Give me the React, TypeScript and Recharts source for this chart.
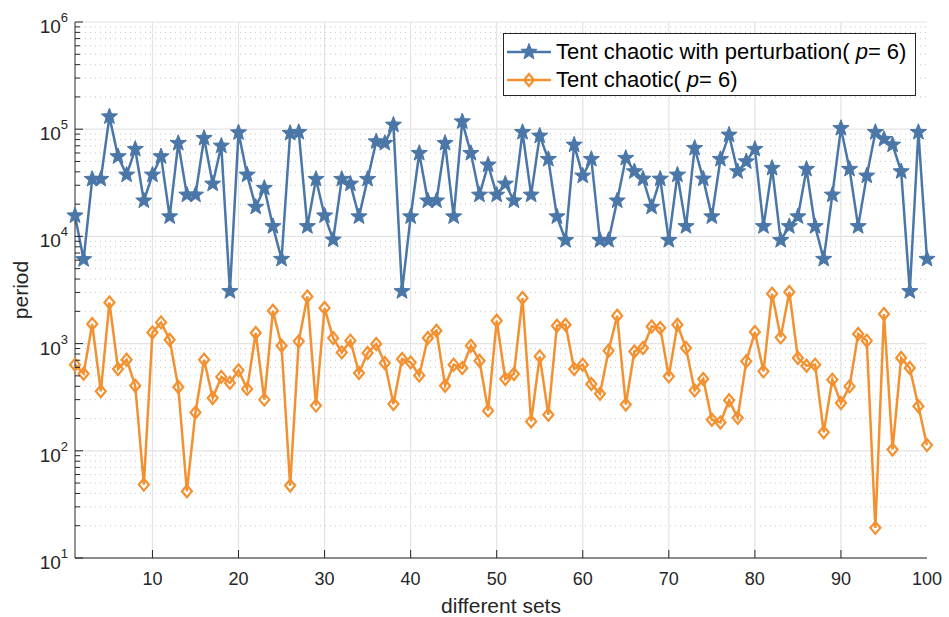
import React from 'react';
import { LineChart, Line, XAxis, YAxis, CartesianGrid, Legend } from 'recharts';

const setIds = Array.from({ length: 100 }, (_, i) => i + 1);

const perturbedPeriod = [
  15600, 6100, 34200, 34200, 131000, 55600, 37500, 65100, 21500, 37500,
  55600, 15300, 74000, 24400, 24400, 82400, 30900, 69900, 3070, 93000,
  37500, 18800, 28200, 12400, 6140, 91800, 93700, 12400, 34200, 15600,
  9300, 34200, 30900, 15300, 34200, 76700, 74000, 109700, 3070, 15300,
  59700, 21500, 21500, 74000, 15300, 117800, 59700, 24400, 46500, 24400,
  30900, 21500, 93700, 24400, 86600, 52500, 15300, 9200, 71400, 36700,
  52500, 9200, 9200, 21500, 53700, 40300, 34400, 18800, 34400, 9200,
  37500, 12400, 66500, 34400, 15300, 52500, 88500, 40300, 49900, 65100,
  12400, 43300, 9200, 12400, 15300, 42400, 12400, 6140, 24400, 102000,
  42400, 12400, 36700, 93700, 80700, 71400, 40300, 3070, 93700, 6140,
];

const plainPeriod = [
  636, 524, 1524, 359, 2420, 580, 708, 405, 48.4, 1271,
  1577, 1087, 394, 42, 228, 708, 311, 489, 430, 563,
  378, 1256, 300, 2027, 956, 47.4, 1049, 2754, 264, 2146,
  1128, 828, 1065, 532, 817, 991, 659, 273, 718, 668,
  505, 1128, 1318, 405, 636, 592, 956, 693, 237, 1634,
  468, 521, 2661, 188, 760, 217, 1468, 1500, 580, 636,
  420, 341, 859, 1820, 270, 845, 910, 1445, 1396, 495,
  1500, 910, 366, 468, 195, 184, 296, 203, 683, 1282,
  551, 2917, 1143, 3027, 733, 622, 636, 149, 461, 279,
  399, 1228, 1065, 19.1, 1888, 103, 733, 592, 260, 113,
];

const xTicks = [10, 20, 30, 40, 50, 60, 70, 80, 90, 100];
const yMajor = [10, 100, 1000, 10000, 100000, 1000000];
const minorSteps = [2, 3, 4, 5, 6, 7, 8, 9];
const yMinor = yMajor.slice(0, -1).flatMap((d) => minorSteps.map((s) => s * d));
const yTicks = [...yMajor, ...yMinor].sort((a, b) => a - b);

const data = setIds.map((set, i) => ({
  set,
  perturbed: perturbedPeriod[i],
  plain: plainPeriod[i],
}));

const blue = '#4A77A8';
const orange = '#F39130';
const ink = '#262626';
const font = '"Liberation Sans", Arial, sans-serif';

const isMajor = (v: number) => yMajor.includes(v);

const LeftTick = (props: any) => {
  const { x, y, payload } = props;
  const v = payload.value;
  const major = isMajor(v);
  return (
    <g>
      <line x1={x} x2={x + (major ? 8 : 5)} y1={y} y2={y} stroke={ink} />
      {major && (
        <text x={x - 7} y={y + 11} textAnchor="end" fill={ink} fontSize={19} fontFamily={font}>
          10<tspan dy={-11} fontSize={13}>{Math.round(Math.log10(v))}</tspan>
        </text>
      )}
    </g>
  );
};

const RightTick = (props: any) => {
  const { x, y, payload } = props;
  const len = isMajor(payload.value) ? 8 : 5;
  return <line x1={x} x2={x - len} y1={y} y2={y} stroke={ink} />;
};

const BottomTick = (props: any) => {
  const { x, y, payload } = props;
  return (
    <g>
      {payload.value < 100 && <line x1={x} x2={x} y1={y} y2={y - 8} stroke={ink} />}
      <text x={x} y={y + 27} textAnchor="middle" fill={ink} fontSize={18} fontFamily={font}>
        {payload.value}
      </text>
    </g>
  );
};

const TopTick = (props: any) => {
  const { x, y, payload } = props;
  if (payload.value >= 100) return <g />;
  return <line x1={x} x2={x} y1={y} y2={y + 8} stroke={ink} />;
};

const starPath = (cx: number, cy: number, R: number, r: number) => {
  const pts: string[] = [];
  for (let k = 0; k < 10; k++) {
    const rad = k % 2 === 0 ? R : r;
    const a = -Math.PI / 2 + (k * Math.PI) / 5;
    pts.push(`${(cx + rad * Math.cos(a)).toFixed(2)},${(cy + rad * Math.sin(a)).toFixed(2)}`);
  }
  return `M${pts.join('L')}Z`;
};

const renderStar = (props: any) => {
  const { cx, cy, index } = props;
  return <path key={`st-${index}`} d={starPath(cx, cy, 8.5, 3.6)} fill={blue} stroke={blue} strokeWidth={1} />;
};

const diamondPath = (cx: number, cy: number) =>
  `M${cx},${cy - 6}L${cx + 5},${cy}L${cx},${cy + 6}L${cx - 5},${cy}Z`;

const renderDiamond = (props: any) => {
  const { cx, cy, index } = props;
  return <path key={`dm-${index}`} d={diamondPath(cx, cy)} fill="none" stroke={orange} strokeWidth={2.2} />;
};

const legendRows = [
  { color: blue, marker: 'star', label: 'Tent chaotic with perturbation(' },
  { color: orange, marker: 'diamond', label: 'Tent chaotic(' },
];

const renderLegend = () => (
  <div
    style={{
      width: 411,
      height: 61,
      border: `1px solid ${ink}`,
      background: '#fff',
      fontFamily: font,
      fontSize: 22,
      color: '#000',
      boxSizing: 'content-box',
    }}
  >
    {legendRows.map((row, i) => (
      <div key={row.label} style={{ display: 'flex', alignItems: 'center', height: 28, marginTop: i === 0 ? 4 : 0 }}>
        <svg width={50} height={20} style={{ marginLeft: 2, flexShrink: 0 }}>
          <line x1={1} x2={45} y1={10} y2={10} stroke={row.color} strokeWidth={2.5} />
          {row.marker === 'star' ? (
            <path d={starPath(23, 10, 8.5, 3.6)} fill={blue} stroke={blue} />
          ) : (
            <path d={diamondPath(23, 10)} fill="none" stroke={orange} strokeWidth={2.2} />
          )}
        </svg>
        <span style={{ whiteSpace: 'nowrap', lineHeight: '28px' }}>
          {row.label} <i>p</i>= 6)
        </span>
      </div>
    ))}
  </div>
);

const YLabel = (props: any) => {
  const { viewBox } = props;
  const cx = 20;
  const cy = viewBox.y + viewBox.height / 2;
  return (
    <text x={cx} y={cy} transform={`rotate(-90 ${cx} ${cy})`} textAnchor="middle" dominantBaseline="central" fill={ink} fontSize={21} fontFamily={font}>
      period
    </text>
  );
};

export default function App() {
  return (
    <div>
      <style>{'body{margin:0;background:#fff}'}</style>
      <LineChart width={949} height={617} data={data} margin={{ top: 22, right: 22, left: 0, bottom: 0 }}>
        <CartesianGrid xAxisId="b" yAxisId="l" horizontalValues={yMinor} vertical={false} stroke="#c8c8c8" strokeDasharray="1 4" />
        <CartesianGrid xAxisId="b" yAxisId="l" horizontalValues={yMajor} verticalValues={xTicks.slice(0, -1)} stroke="#e3e3e3" strokeWidth={1.2} />
        <XAxis
          xAxisId="b"
          dataKey="set"
          type="number"
          domain={[1, 100]}
          ticks={xTicks}
          interval={0}
          height={59}
          tickSize={0}
          tickMargin={0}
          tickLine={false}
          axisLine={{ stroke: ink }}
          tick={<BottomTick />}
          label={{ value: 'different sets', position: 'insideBottom', offset: 4, fill: ink, fontSize: 21, fontFamily: font }}
        />
        <XAxis
          xAxisId="t"
          orientation="top"
          dataKey="set"
          type="number"
          domain={[1, 100]}
          ticks={xTicks}
          interval={0}
          height={0}
          tickSize={0}
          tickMargin={0}
          tickLine={false}
          axisLine={{ stroke: ink }}
          tick={<TopTick />}
        />
        <YAxis
          yAxisId="l"
          scale="log"
          type="number"
          domain={[10, 1000000]}
          allowDataOverflow
          ticks={yTicks}
          interval={0}
          width={75}
          tickSize={0}
          tickMargin={0}
          tickLine={false}
          axisLine={{ stroke: ink }}
          tick={<LeftTick />}
          label={<YLabel />}
        />
        <YAxis
          yAxisId="r"
          orientation="right"
          scale="log"
          type="number"
          domain={[10, 1000000]}
          allowDataOverflow
          ticks={yTicks}
          interval={0}
          width={0}
          tickSize={0}
          tickMargin={0}
          tickLine={false}
          axisLine={{ stroke: ink }}
          tick={<RightTick />}
        />
        <Legend
          layout="vertical"
          align="center"
          verticalAlign="middle"
          wrapperStyle={{ left: 503, top: 33, width: 413, height: 63 }}
          content={renderLegend}
        />
        <Line
          xAxisId="b"
          yAxisId="l"
          dataKey="perturbed"
          stroke={blue}
          strokeWidth={2.5}
          dot={renderStar}
          activeDot={false}
          isAnimationActive={false}
        />
        <Line
          xAxisId="b"
          yAxisId="l"
          dataKey="plain"
          stroke={orange}
          strokeWidth={2.5}
          dot={renderDiamond}
          activeDot={false}
          isAnimationActive={false}
        />
      </LineChart>
    </div>
  );
}
